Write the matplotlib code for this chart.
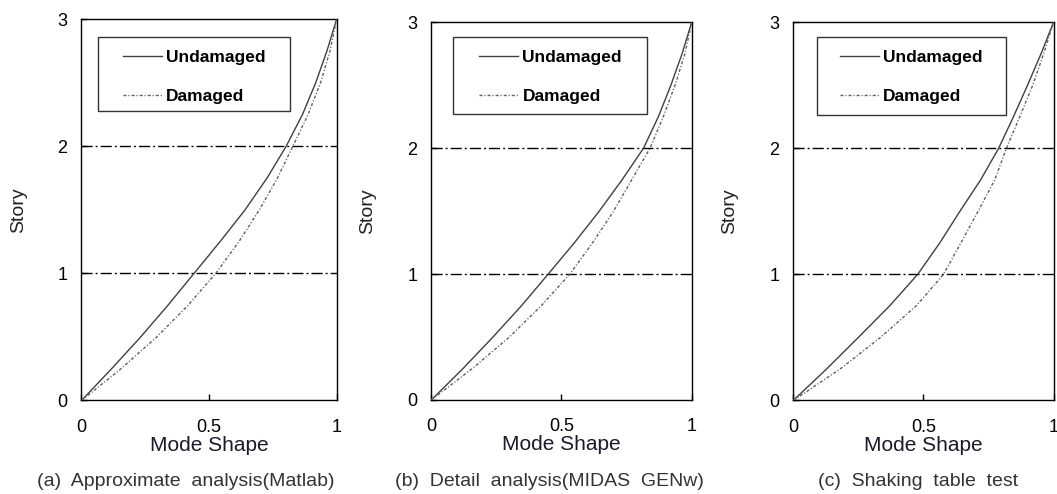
import matplotlib
matplotlib.use("Agg")
import matplotlib.pyplot as plt
from matplotlib.patches import Rectangle

plt.rcParams["font.family"] = ["Liberation Sans", "DejaVu Sans"]

story = [0, 0.25, 0.5, 0.75, 1, 1.25, 1.5, 1.75, 2, 2.25, 2.5, 2.75, 3]

# (a) approximate analysis (Matlab)
approx_undamaged = [0, 0.118, 0.232, 0.339, 0.441, 0.543, 0.641, 0.727, 0.802, 0.866, 0.918, 0.962, 1.0]
approx_damaged = [0, 0.155, 0.295, 0.418, 0.526, 0.617, 0.697, 0.768, 0.828, 0.888, 0.937, 0.974, 1.0]

# (b) detail analysis (MIDAS GENw)
detail_undamaged = [0, 0.122, 0.237, 0.347, 0.449, 0.550, 0.645, 0.733, 0.815, 0.872, 0.920, 0.963, 1.0]
detail_damaged = [0, 0.158, 0.300, 0.423, 0.532, 0.620, 0.700, 0.770, 0.840, 0.891, 0.936, 0.974, 1.0]

# (c) shaking table test
test_undamaged = [0, 0.128, 0.250, 0.370, 0.478, 0.563, 0.640, 0.720, 0.789, 0.846, 0.900, 0.952, 1.0]
test_damaged = [0, 0.180, 0.335, 0.472, 0.577, 0.644, 0.710, 0.774, 0.819, 0.870, 0.920, 0.962, 1.0]

floor_levels = [1, 2]
x_ticks = [0, 0.5, 1]
x_ticklabels = ["0", "0.5", "1"]
y_ticks = [0, 1, 2, 3]

captions = ["(a)  Approximate  analysis(Matlab)",
            "(b)  Detail  analysis(MIDAS  GENw)",
            "(c)  Shaking  table  test"]

panels = [(approx_undamaged, approx_damaged),
          (detail_undamaged, detail_damaged),
          (test_undamaged, test_damaged)]

# layout (figure fractions) for each panel: left, bottom, width, height
positions = [(0.0771, 0.1893, 0.2413, 0.7713),
             (0.4080, 0.1903, 0.2464, 0.7646),
             (0.7505, 0.1893, 0.2462, 0.7656)]
# legend frame (axes fractions): x0, y0, w, h  and handle start
legend_boxes = [(0.0635, 0.761, 0.754, 0.194, 0.163, 0.919),
                (0.0845, 0.757, 0.745, 0.205, 0.184, 0.926),
                (0.0900, 0.755, 0.727, 0.207, 0.180, 0.926)]
caption_x = [186, 549, 918]

fig = plt.figure(figsize=(10.57, 4.94), dpi=100)

for i, (undamaged, damaged) in enumerate(panels):
    ax = fig.add_axes(positions[i])

    for lvl in floor_levels:
        ax.axhline(lvl, color="black", lw=1.0, dashes=(8, 2.2, 1.4, 2.2), zorder=1)

    ax.plot(undamaged, story, color="#404040", lw=1.0, label="Undamaged", zorder=3)
    ax.plot(damaged, story, color="#606060", lw=1.0, dashes=(2.2, 1.4, 0.8, 1.4),
            label="Damaged", zorder=3)

    ax.set_xlim(0, 1)
    ax.set_ylim(0, 3)
    ax.set_xticks(x_ticks)
    ax.set_xticklabels(x_ticklabels)
    ax.set_yticks(y_ticks)
    ax.tick_params(direction="in", length=4, width=1, labelsize=13, colors="black")
    ax.tick_params(axis="x", pad=13)
    ax.tick_params(axis="y", pad=10)
    for sp in ax.spines.values():
        sp.set_linewidth(1.0)
        sp.set_color("black")

    ax.set_ylabel("Story", fontsize=14, color="#222222")
    ax.yaxis.set_label_coords(-0.212, 0.5)
    ax.set_xlabel("Mode Shape", fontsize=15, color="#1a1a2a")
    ax.xaxis.set_label_coords(0.5, -0.093)

    x0, y0, w, h, hx, hy = legend_boxes[i]
    ax.add_patch(Rectangle((x0, y0), w, h, transform=ax.transAxes, fill=False,
                           edgecolor="#333333", lw=1.0, zorder=4))
    ax.legend(loc="upper left", bbox_to_anchor=(hx, hy), frameon=False, borderpad=0,
              borderaxespad=0, handlelength=2.24, handletextpad=0.25, labelspacing=1.37,
              prop={"weight": "bold", "size": 12.5})

    fig.text(caption_x[i] / 1057, 1 - 481 / 494, captions[i], ha="center", va="center",
             fontsize=14, color="#333333")

fig.savefig("out.png", dpi=100)
